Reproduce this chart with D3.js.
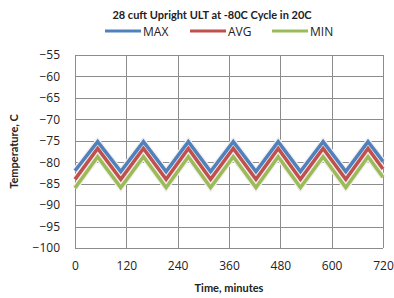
<!DOCTYPE html>
<html>
<head>
<meta charset="utf-8">
<script src="https://cdn.jsdelivr.net/npm/d3@7"></script>
<style>
  body { margin: 0; background: #fff; }
  svg text { font-family: "Open Sans", "Liberation Sans", sans-serif; fill: #222; }
</style>
</head>
<body>
<div id="chart"></div>
<script>
// data
const times = [0, 53, 107, 160, 213, 265, 317, 370, 423, 475, 527, 580, 633, 685, 720];
const maxVals = [-82, -75.2, -82.2, -75.2, -82.2, -75.2, -82.2, -75.2, -82.2, -75.2, -82.2, -75.2, -82.2, -75.2, -79.8];
const avgVals = [-84, -76.8, -84, -76.8, -84, -76.8, -84, -76.8, -84, -76.8, -84, -76.8, -84, -76.8, -81.6];
const minVals = [-86, -78.7, -85.9, -78.7, -85.9, -78.7, -85.9, -78.7, -85.9, -78.7, -85.9, -78.7, -85.9, -78.7, -83.5];
const xTicks = [0, 120, 240, 360, 480, 600, 720];
const yTicks = [-55, -60, -65, -70, -75, -80, -85, -90, -95, -100];

const series = [
  { name: "MAX", values: maxVals, color: "#4F81BD" },
  { name: "AVG", values: avgVals, color: "#C0504D" },
  { name: "MIN", values: minVals, color: "#9BBB59" }
];

const W = 394, H = 298;
const margin = { top: 55, right: 10, bottom: 50, left: 75 };
const width = 383 - margin.left;
const height = 248 - margin.top;

const svg = d3.select("#chart").append("svg")
  .attr("width", W).attr("height", H);

const g = svg.append("g")
  .attr("transform", "translate(" + margin.left + "," + margin.top + ")");

const x = d3.scaleLinear().domain([0, 720]).range([0, width]);
const y = d3.scaleLinear().domain([-100, -55]).range([height, 0]);

// gridlines
g.append("g")
  .selectAll("line.h")
  .data(yTicks)
  .join("line")
  .attr("x1", 0).attr("x2", width)
  .attr("y1", d => Math.round(y(d)) + 0.5).attr("y2", d => Math.round(y(d)) + 0.5)
  .attr("stroke", "#8c8c8c").attr("stroke-width", 1);

g.append("g")
  .selectAll("line.v")
  .data(xTicks)
  .join("line")
  .attr("y1", 0).attr("y2", height)
  .attr("x1", d => Math.round(x(d)) + 0.5).attr("x2", d => Math.round(x(d)) + 0.5)
  .attr("stroke", "#8c8c8c").attr("stroke-width", 1);

// axes (labels only)
const yAxis = g.append("g")
  .call(d3.axisLeft(y).tickValues(yTicks).tickSize(0).tickPadding(15));
yAxis.select(".domain").remove();
yAxis.selectAll("text").style("font-size", "12px");

const xAxis = g.append("g")
  .attr("transform", "translate(0," + height + ")")
  .call(d3.axisBottom(x).tickValues(xTicks).tickSize(0).tickPadding(13));
xAxis.select(".domain").remove();
xAxis.selectAll("text").style("font-size", "12px");

// lines
const line = d3.line()
  .x((d, i) => x(times[i]))
  .y(d => y(d));

series.forEach(s => {
  g.append("path")
    .datum(s.values)
    .attr("d", line)
    .attr("fill", "none")
    .attr("stroke", "#f4eeee")
    .attr("stroke-width", 6)
    .attr("stroke-linejoin", "miter");
});
series.forEach(s => {
  g.append("path")
    .datum(s.values)
    .attr("d", line)
    .attr("fill", "none")
    .attr("stroke", s.color)
    .attr("stroke-width", 3.5)
    .attr("stroke-linejoin", "miter");
});

// title
svg.append("text")
  .attr("x", 212).attr("y", 19)
  .attr("text-anchor", "middle")
  .style("font-size", "11px")
  .style("font-weight", "bold")
  .style("font-family", "Lato, sans-serif")
  .text("28 cuft Upright ULT at -80C Cycle in 20C");

// legend
const legendX = [105, 190, 272];
const legend = svg.append("g");
series.forEach((s, i) => {
  legend.append("line")
    .attr("x1", legendX[i]).attr("x2", legendX[i] + 36)
    .attr("y1", 31).attr("y2", 31)
    .attr("stroke", s.color).attr("stroke-width", 3);
  legend.append("text")
    .attr("x", legendX[i] + 38).attr("y", 35.5)
    .style("font-size", "12px")
    .text(s.name);
});

// axis titles
svg.append("text")
  .attr("x", margin.left + width / 2).attr("y", 292)
  .attr("text-anchor", "middle")
  .style("font-size", "11px")
  .style("font-weight", "bold")
  .style("font-family", "Lato, sans-serif")
  .text("Time, minutes");

svg.append("text")
  .attr("transform", "translate(18," + (margin.top + height / 2) + ") rotate(-90)")
  .attr("text-anchor", "middle")
  .style("font-size", "11px")
  .style("font-weight", "bold")
  .style("font-family", "Lato, sans-serif")
  .text("Temperature, C");
</script>
</body>
</html>
